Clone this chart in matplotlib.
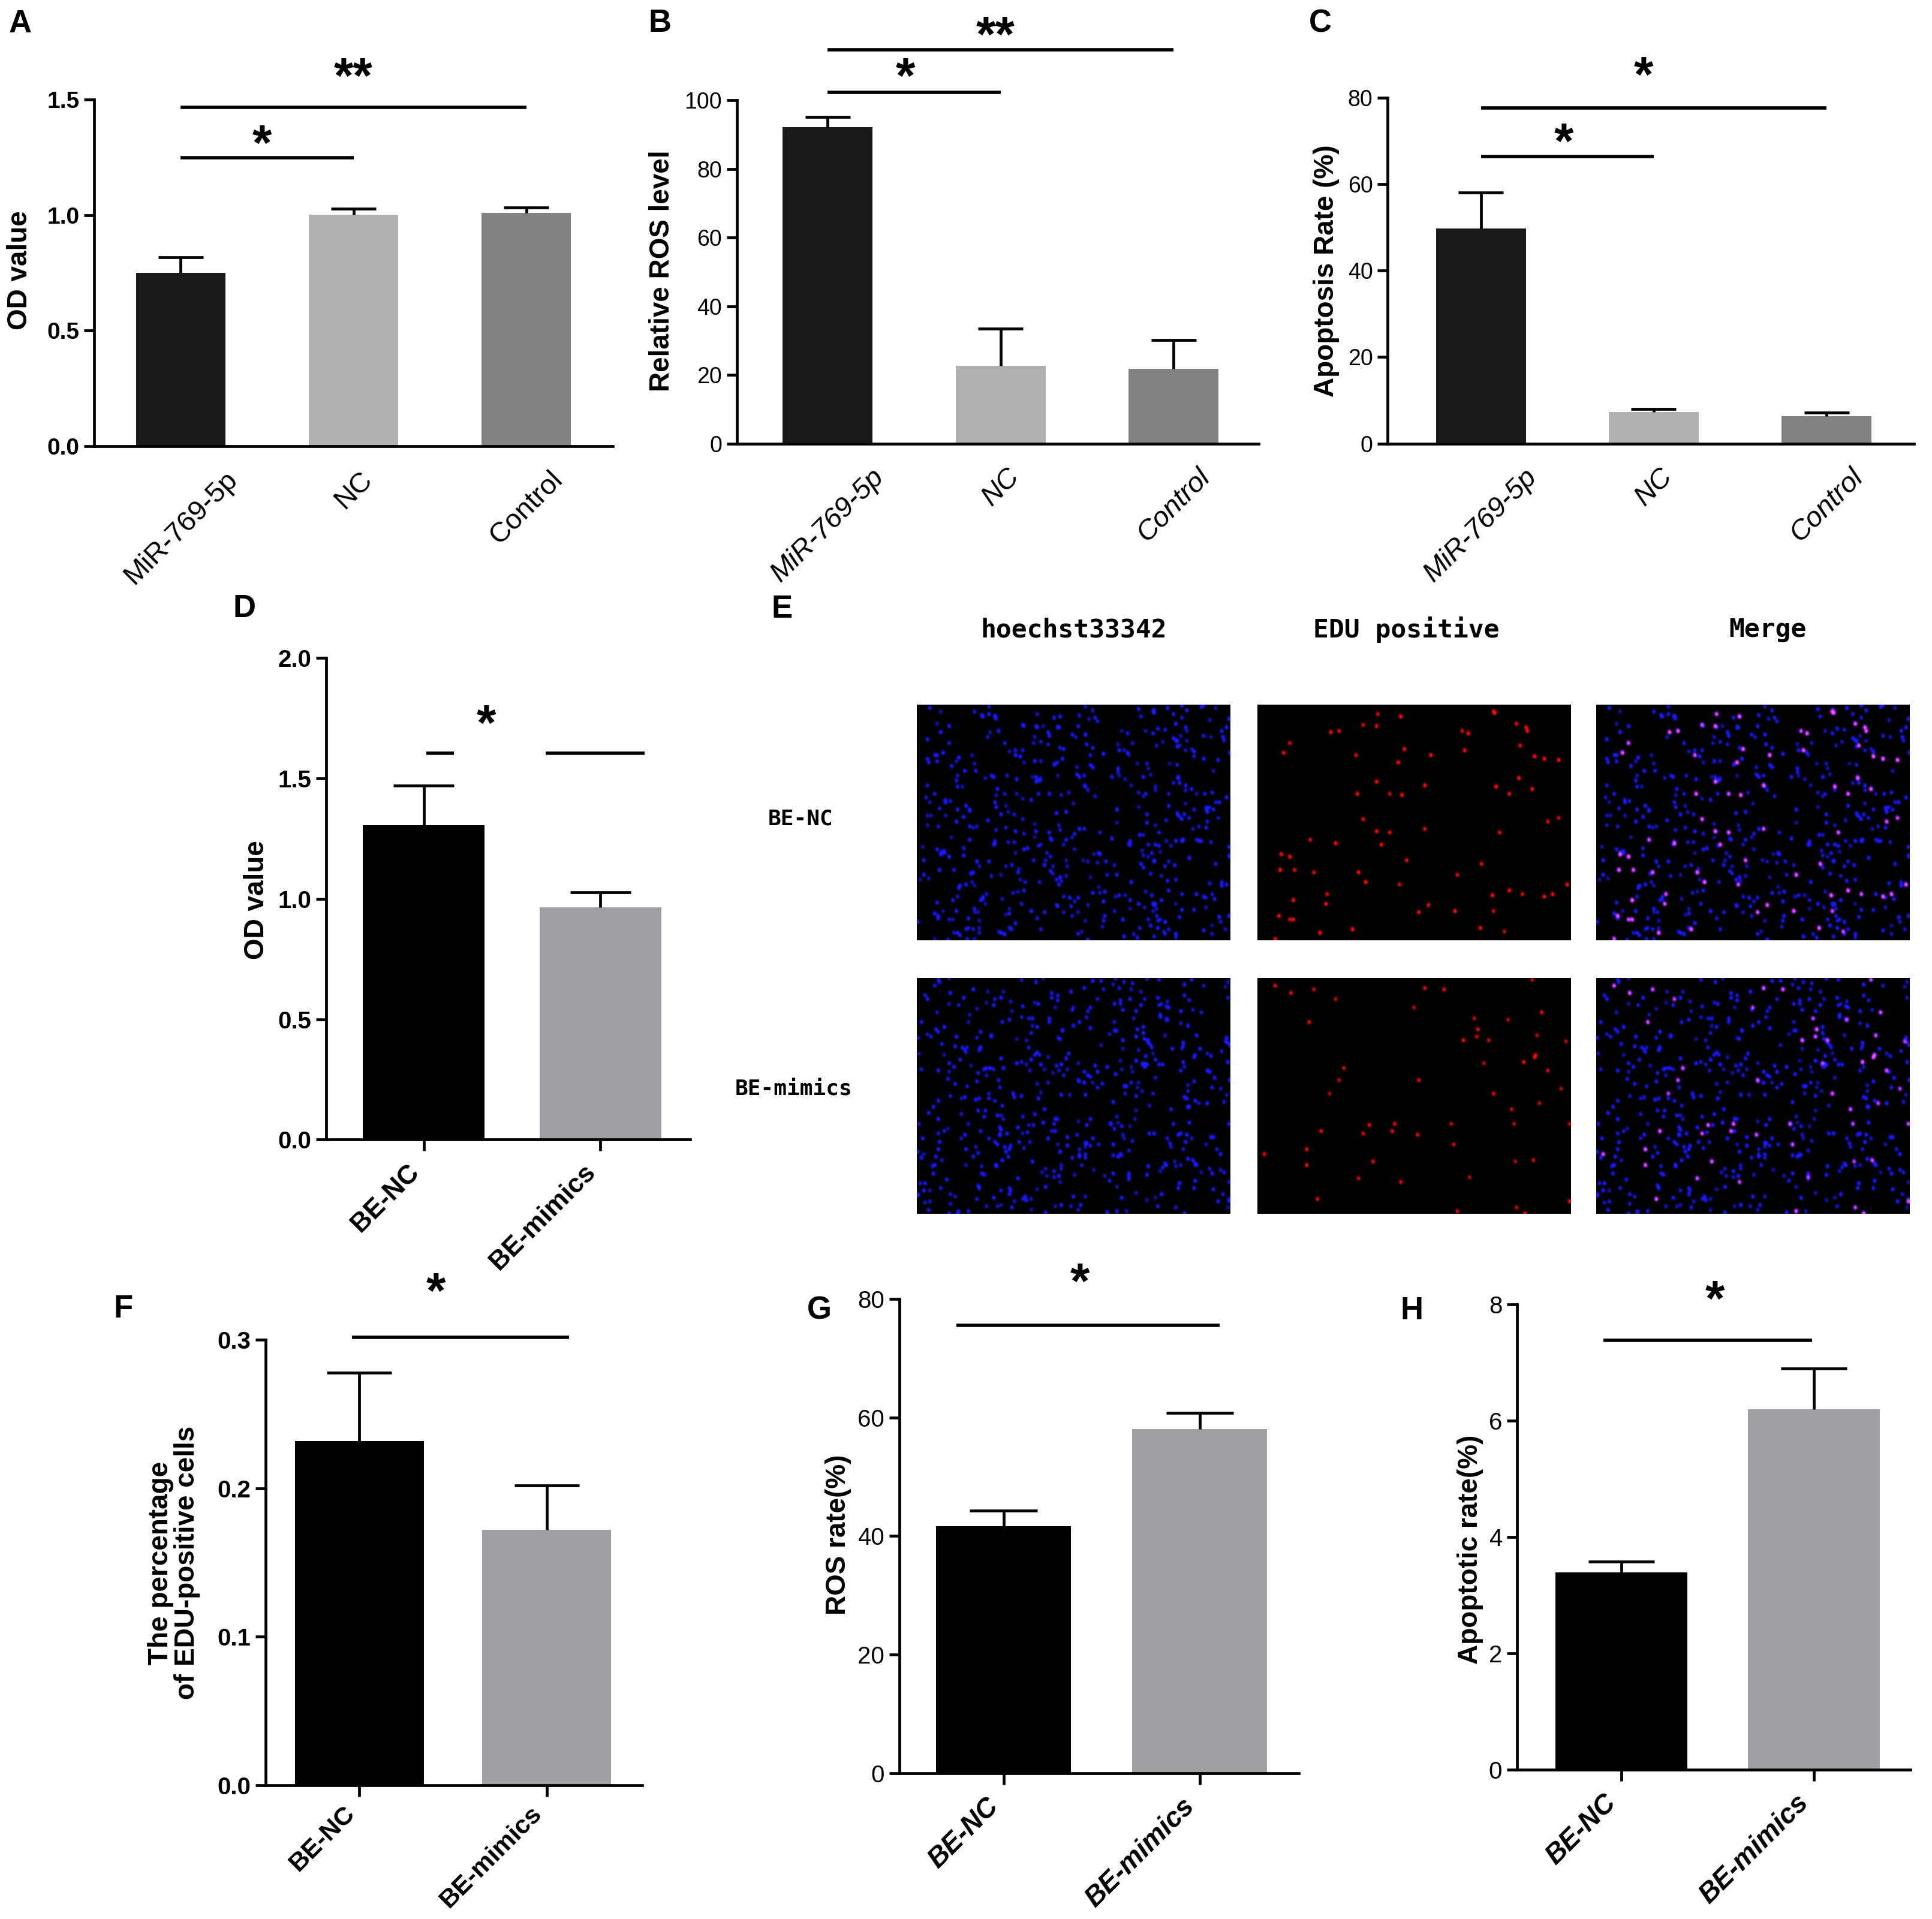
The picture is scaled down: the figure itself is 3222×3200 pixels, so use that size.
import numpy as np
import matplotlib.pyplot as plt

plt.rcParams['font.family'] = ['Liberation Sans', 'DejaVu Sans']

# layout is measured in reference pixels / 2.0555
W, H = 1568.0, 1557.0


def box(x0, x1, ytop, ybot):
    return [x0 / W, 1 - ybot / H, (x1 - x0) / W, (ybot - ytop) / H]


def fx(x):
    return x / W


def fy(y):
    return 1 - y / H


# ---- data ----
groups3 = ['MiR-769-5p', 'NC', 'Control']
groups2 = ['BE-NC', 'BE-mimics']

od_a = [0.749, 1.002, 1.009]
od_a_err = [0.068, 0.025, 0.025]
ros_b = [92.2, 22.6, 21.7]
ros_b_err = [3.0, 10.8, 8.4]
apo_c = [49.7, 7.3, 6.4]
apo_c_err = [8.4, 0.7, 0.8]
od_d = [1.306, 0.964]
od_d_err = [0.164, 0.064]
edu_f = [0.232, 0.172]
edu_f_err = [0.046, 0.030]
ros_g = [41.7, 58.1]
ros_g_err = [2.6, 2.7]
apo_h = [3.40, 6.20]
apo_h_err = [0.18, 0.70]

# significance: (x0, x1, y) lines and (x, y, text) stars
sig_a = [(0, 1, 1.248), (0, 2, 1.466)]
star_a = [(0.47, 1.336, '*'), (1.0, 1.626, '**')]
sig_b = [(0, 1, 102.2), (0, 2, 114.7)]
star_b = [(0.45, 108.6, '*'), (0.97, 120.8, '**')]
sig_c = [(0, 1, 66.3), (0, 2, 77.6)]
star_c = [(0.48, 71.2, '*'), (0.94, 86.6, '*')]
sig_d = [(0.016, 0.17, 1.605), (0.69, 1.25, 1.605)]
star_d = [(0.355, 1.753, '*')]
sig_f = [(-0.04, 1.12, 0.302)]
star_f = [(0.41, 0.337, '*')]
sig_g = [(-0.24, 1.10, 75.6)]
star_g = [(0.39, 83.9, '*')]
sig_h = [(-0.095, 0.99, 7.385)]
star_h = [(0.485, 8.2, '*')]

col3 = ['#1b1a1b', '#b1b1b3', '#828282']
col2 = ['#000000', '#a0a0a4']

fig = plt.figure(figsize=(32.23, 32.0), dpi=100)
LW = 3.4
STAR_FS = 60


def bar_panel(rect, cats, vals, errs, colors, ymax, ystep, fmt, width, xlim,
              sig, stars, tick_style, xlab_style, mid_tick_only=False, pad=10):
    ax = fig.add_axes(box(*rect))
    x = np.arange(len(cats))
    ax.bar(x, vals, width=width, color=colors, zorder=2)
    for xi, v, e in zip(x, vals, errs):
        ax.plot([xi, xi], [v, v + e], color='black', lw=LW, zorder=3,
                solid_capstyle='butt')
        ax.plot([xi - width / 4, xi + width / 4], [v + e, v + e],
                color='black', lw=LW, zorder=3, solid_capstyle='butt')
    for x0, x1, y in sig:
        ax.plot([x0, x1], [y, y], color='black', lw=LW + 0.6, clip_on=False,
                solid_capstyle='butt')
    for xs, ys, s in stars:
        ax.annotate(s, (xs, ys), xytext=(0, -0.45 * STAR_FS),
                    textcoords='offset points', ha='center', va='baseline',
                    fontsize=STAR_FS, fontweight='bold', annotation_clip=False)
    ax.set_xlim(*xlim)
    ax.set_ylim(0, ymax)
    yt = np.arange(0, ymax + ystep / 2, ystep)
    ax.set_yticks(yt)
    ax.set_yticklabels([fmt % t for t in yt], **tick_style)
    ax.set_xticks(x)
    ax.set_xticklabels(cats, rotation=45, va='top',
                       ha='center' if mid_tick_only else 'right',
                       **xlab_style)
    if mid_tick_only:
        ax.tick_params(axis='x', length=0, pad=24)
        ax.set_xticks([1], minor=True)
        ax.tick_params(axis='x', which='minor', length=14, width=LW)
    else:
        ax.tick_params(axis='x', length=14, width=LW, pad=pad)
    ax.tick_params(axis='y', length=12, width=LW, pad=6)
    for side in ['top', 'right']:
        ax.spines[side].set_visible(False)
    for side in ['left', 'bottom']:
        ax.spines[side].set_linewidth(LW)
    ax.patch.set_alpha(0)
    return ax


reg = dict(fontsize=27)
bold_t = dict(fontsize=28, fontweight='bold')
bold_t2 = dict(fontsize=29, fontweight='bold')
reg_t2 = dict(fontsize=29)

bar_panel((76.6, 497, 80.8, 362), groups3, od_a, od_a_err, col3, 1.5, 0.5,
          '%.1f', 0.52, (-0.5, 2.5), sig_a, star_a, bold_t,
          dict(fontsize=34), mid_tick_only=True)
bar_panel((598, 1021, 81.3, 359.9), groups3, ros_b, ros_b_err, col3, 100, 20,
          '%d', 0.52, (-0.524, 2.49), sig_b, star_b, reg,
          dict(fontsize=34, style='italic'), mid_tick_only=True)
bar_panel((1126, 1553, 79.1, 359.9), groups3, apo_c, apo_c_err, col3, 80, 20,
          '%d', 0.52, (-0.538, 2.506), sig_c, star_c, reg,
          dict(fontsize=34, style='italic'), mid_tick_only=True)
bar_panel((264.7, 560, 533.9, 924.6), groups2, od_d, od_d_err, col2, 2.0, 0.5,
          '%.1f', 0.687, (-0.551, 1.508), sig_d, star_d, bold_t2,
          dict(fontsize=32, fontweight='bold'))
bar_panel((215.6, 521, 1087.2, 1448.3), groups2, edu_f, edu_f_err, col2, 0.3,
          0.1, '%.1f', 0.69, (-0.50, 1.51), sig_f, star_f, bold_t2,
          dict(fontsize=31, fontweight='bold'), pad=6)
bar_panel((729.7, 1054, 1054, 1438.6), groups2, ros_g, ros_g_err, col2, 80, 20,
          '%d', 0.688, (-0.531, 1.506), sig_g, star_g, reg_t2,
          dict(fontsize=33, fontweight='bold', style='italic'))
bar_panel((1231, 1550, 1058.5, 1436), groups2, apo_h, apo_h_err, col2, 8, 2,
          '%d', 0.686, (-0.542, 1.503), sig_h, star_h, reg_t2,
          dict(fontsize=33, fontweight='bold', style='italic'))

# y axis titles
ylabels = [(16, 219, 'OD value'), (537, 220, 'Relative ROS level'),
           (1076, 220, 'Apoptosis Rate (%)'), (208, 730, 'OD value'),
           (141, 1268, 'The percentage\nof EDU-positive cells'),
           (680, 1245, 'ROS rate(%)'), (1193, 1257, 'Apoptotic rate(%)')]
for x, y, s in ylabels:
    fig.text(fx(x), fy(y), s, rotation=90, ha='center', va='center',
             fontsize=33, fontweight='bold', linespacing=1.0)

# panel letters
letters = [(7, 19.5, 'A'), (526, 19, 'B'), (1062, 19, 'C'), (189, 494, 'D'),
           (626, 494.5, 'E'), (92, 1062, 'F'), (655, 1063.5, 'G'),
           (1136, 1063.5, 'H')]
for x, y, s in letters:
    fig.text(fx(x), fy(y), s, ha='left', va='center', fontsize=38,
             fontweight='bold')

# ---- panel E: fluorescence micrographs (synthetic texture, fixed seed) ----
rng = np.random.default_rng(7)
IH, IW = 195, 260


def blur(img, s):
    r = int(3 * s) + 1
    k = np.exp(-0.5 * (np.arange(-r, r + 1) / s) ** 2)
    img = np.apply_along_axis(lambda v: np.convolve(v, k, 'same'), 0, img)
    img = np.apply_along_axis(lambda v: np.convolve(v, k, 'same'), 1, img)
    return img


def stamp(ys, xs, amp):
    m = np.zeros((IH, IW))
    for dy, dx, w in [(0, 0, 1.0), (1, 0, 1.0), (-1, 0, 0.6), (0, 1, 0.7),
                      (1, 1, 0.6)]:
        np.add.at(m, (np.clip(ys + dy, 0, IH - 1), np.clip(xs + dx, 0, IW - 1)),
                  amp * w)
    return np.clip(blur(m, 0.85) * 0.6, 0, 1)


def nuclei(n_blue, n_red, red_gain):
    ys = rng.integers(0, IH, n_blue)
    xs = rng.integers(0, IW, n_blue)
    b = stamp(ys, xs, rng.uniform(0.55, 1.0, n_blue))
    pick = rng.choice(n_blue, n_red, replace=False)
    r = stamp(ys[pick], xs[pick], rng.uniform(0.7, 1.0, n_red) * red_gain)
    blue = np.dstack([0.1 * b, 0.1 * b, b])
    red = np.dstack([r, 0.04 * r, 0.06 * r])
    merge = np.clip(np.dstack([0.95 * r + 0.1 * b, 0.1 * b + 0.2 * r,
                               b + 0.8 * r]), 0, 1)
    return blue, red, merge


rows = [('BE-NC', 571.6, 762.8, 520, 75, 1.0),
        ('BE-mimics', 793.5, 985, 520, 55, 0.85)]
cols_x = [(744, 998), (1020, 1274), (1295, 1549)]
for name, yt, yb, nb, nr, g in rows:
    imgs = nuclei(nb, nr, g)
    for (x0, x1), im in zip(cols_x, imgs):
        ax = fig.add_axes(box(x0, x1, yt, yb))
        ax.imshow(im, aspect='auto', interpolation='bilinear')
        ax.axis('off')

col_titles = [(871, 'hoechst33342'), (1141, 'EDU positive'), (1434, 'Merge')]
for x, s in col_titles:
    fig.text(fx(x), fy(511), s, ha='center', va='center', fontsize=31,
             fontweight='bold', family='DejaVu Sans Mono')
fig.text(fx(649.7), fy(664.5), 'BE-NC', ha='center', va='center', fontsize=26,
         fontweight='bold', family='DejaVu Sans Mono')
fig.text(fx(644), fy(883.5), 'BE-mimics', ha='center', va='center',
         fontsize=26, fontweight='bold', family='DejaVu Sans Mono')

fig.savefig('out.png', dpi=100, facecolor='white')
